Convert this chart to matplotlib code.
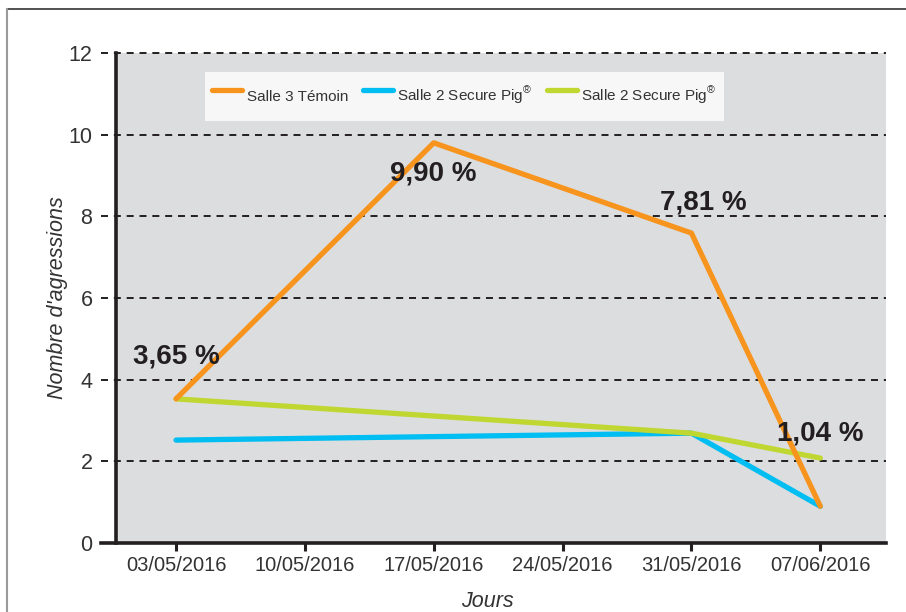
import matplotlib
matplotlib.use('Agg')
import matplotlib.pyplot as plt
from matplotlib.lines import Line2D
import numpy as np

plt.rcParams['font.family'] = ['Liberation Sans', 'DejaVu Sans']
plt.rcParams['mathtext.fontset'] = 'custom'
plt.rcParams['mathtext.rm'] = 'Liberation Sans'

dates = ['03/05/2016', '10/05/2016', '17/05/2016', '24/05/2016', '31/05/2016', '07/06/2016']

# each series only has points on some dates
temoin_dates = ['03/05/2016', '17/05/2016', '31/05/2016', '07/06/2016']
temoin = [3.53, 9.80, 7.59, 0.90]
secure1_dates = ['03/05/2016', '31/05/2016', '07/06/2016']
secure1 = [2.52, 2.69, 0.90]
secure2_dates = ['03/05/2016', '31/05/2016', '07/06/2016']
secure2 = [3.53, 2.69, 2.08]

pct_labels = ['3,65 %', '9,90 %', '7,81 %', '1,04 %']
pct_offsets = [(0, 42), (0, -31), (12, 31), (0, 73)]

labels = ['Salle 3 Témoin', 'Salle 2 Secure Pig$^{®}$', 'Salle 2 Secure Pig$^{®}$']
colors = ['#f7941d', '#00bdf2', '#bfd730']

fig = plt.figure(figsize=(9.06, 6.12), dpi=100)
ax = fig.add_axes([116/906, 69/612, 770/906, 490/612])
ax.set_facecolor('#dcdddf')

pos = {d: i for i, d in enumerate(dates)}
def xs(ds):
    return [pos[d] for d in ds]

kw = dict(lw=3.8, solid_capstyle='round', solid_joinstyle='round')
l2, = ax.plot(xs(secure1_dates), secure1, color=colors[1], label=labels[1], zorder=3, **kw)
l1, = ax.plot(xs(temoin_dates), temoin, color=colors[0], label=labels[0], zorder=4, **kw)
l3, = ax.plot(xs(secure2_dates), secure2, color=colors[2], label=labels[2], zorder=3.5, **kw)

for x, y, t, off in zip(xs(temoin_dates), temoin, pct_labels, pct_offsets):
    ax.annotate(t, (x, y), xytext=off, textcoords='offset pixels', ha='center', va='center',
                fontsize=20, fontweight='bold', color='#231f20', zorder=6)

ax.set_xlim(-0.466, 5.51)
ax.set_ylim(0, 12)
ax.set_xticks(range(len(dates)))
ax.set_xticklabels(dates)
ax.set_yticks(range(0, 13, 2))

# dashed gridlines that poke out left of the axis
for yv in range(2, 13, 2):
    ax.axhline(yv, xmin=-0.019, xmax=1, color='#231f20', lw=1.4,
               linestyle=(0, (3.6, 3.0)), clip_on=False, zorder=1)
ax.axhline(0, xmin=-0.019, xmax=1, color='#231f20', lw=2.6, clip_on=False, zorder=7)

for s in ['top', 'right', 'bottom']:
    ax.spines[s].set_visible(False)
ax.spines['left'].set_linewidth(2.6)
ax.spines['left'].set_color('#231f20')
ax.spines['left'].set_zorder(7)

ax.tick_params(axis='y', length=0, pad=17, labelsize=15.5, labelcolor='#333333')
ax.tick_params(axis='x', length=5.5, width=2.2, color='#231f20', direction='out',
               pad=4, labelsize=14.5, labelcolor='#333333')

ax.set_ylabel("Nombre d'agressions", fontsize=15.5, style='italic', color='#333333')
ax.yaxis.set_label_coords(-0.062, 0.5)
ax.set_xlabel('Jours', fontsize=15.5, style='italic', color='#333333')
ax.xaxis.set_label_coords(0.482, -0.097)

leg = ax.legend(handles=[l1, l2, l3], loc='center', bbox_to_anchor=(0.4526, 0.911), ncol=3,
                fontsize=11, handlelength=1.95, handleheight=3.0, handletextpad=0.3,
                columnspacing=0.95, frameon=True, fancybox=False, borderpad=0.5,
                labelcolor='#333333')
leg.get_frame().set_facecolor('#f7f7f7')
leg.get_frame().set_edgecolor('none')
leg.get_frame().set_alpha(1)
for h in leg.get_lines():
    h.set_linewidth(3.8)
    h.set_solid_capstyle('round')

# outer frame
fig.add_artist(Line2D([7/906, 1], [1 - 9/612, 1 - 9/612], color='#333333', lw=1.2))
fig.add_artist(Line2D([7/906, 7/906], [0, 1 - 9/612], color='#999999', lw=1.5))

fig.savefig('out.png', dpi=100)
